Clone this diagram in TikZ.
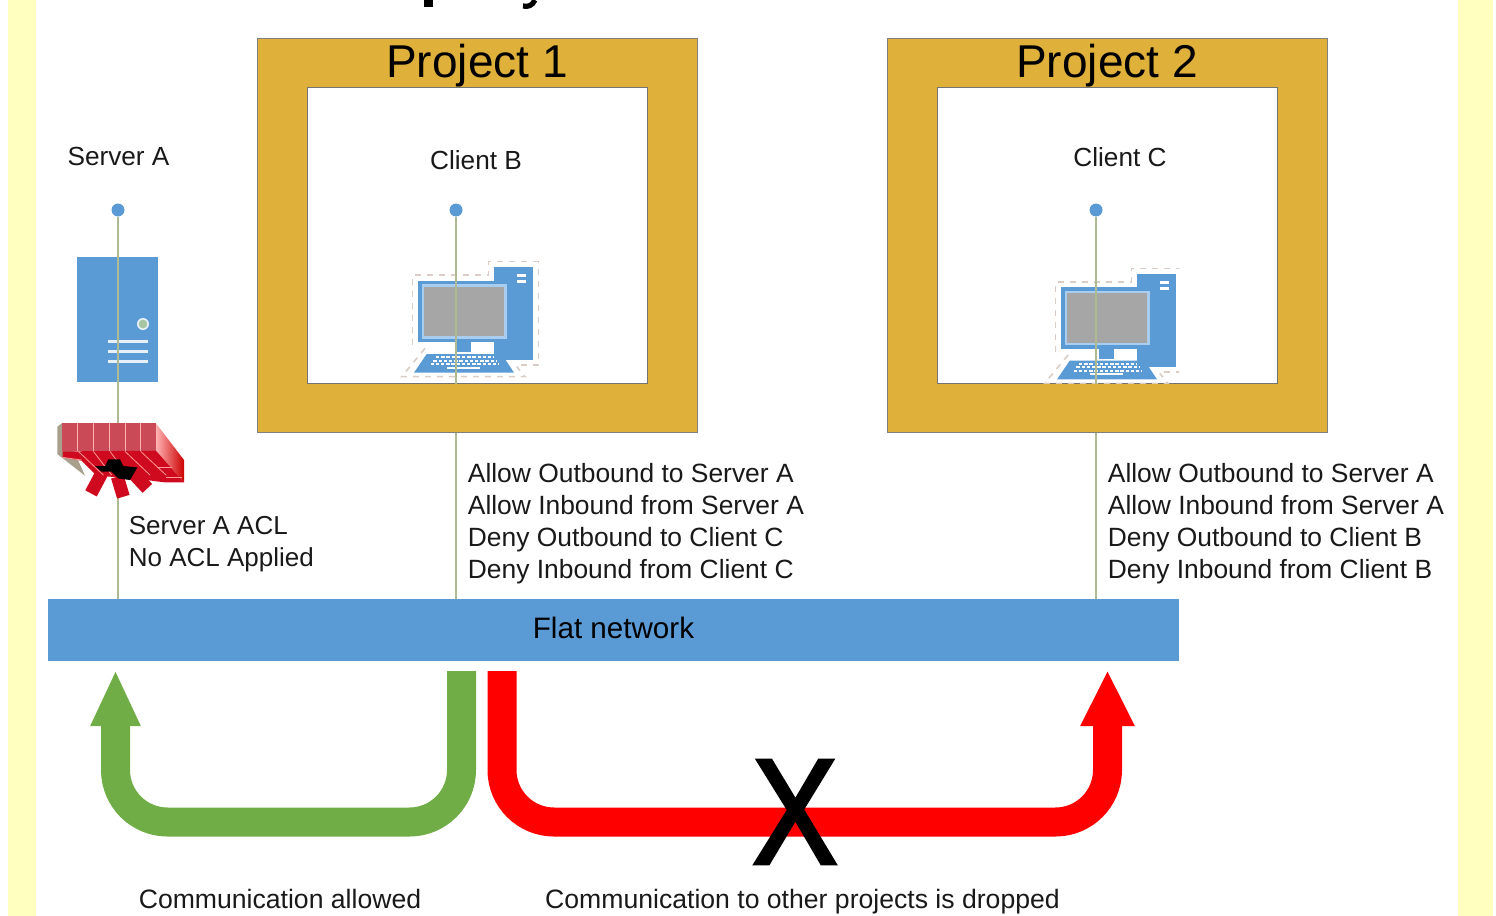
\documentclass[tikz,border=0pt]{standalone}
\usepackage{fontspec}
\setmainfont{Liberation Sans}
\newfontfamily\crossfont[FakeBold=2.5]{Liberation Sans}
\usetikzlibrary{positioning,arrows.meta}

\definecolor{paleyellow}{HTML}{FFFFC0}
\definecolor{framegold}{HTML}{DFB13A}
\definecolor{netblue}{HTML}{5B9BD5}
\definecolor{paleblue}{HTML}{A9CDEE}
\definecolor{linkgreen}{HTML}{AEBB92}
\definecolor{allowgreen}{HTML}{70AD47}
\definecolor{dashtan}{HTML}{D9CDC6}
\definecolor{wallred}{HTML}{CB4A58}
\definecolor{floorred}{HTML}{D00A1E}
\definecolor{wallshadow}{HTML}{A8A08C}

\tikzset{
    plain/.style={inner sep=0pt, font=\fontsize{13.2}{16}\selectfont, text=black!90},
    rules/.style={plain, align=left, anchor=west},
    projframe/.style={draw=black!50, fill=framegold, minimum width=220pt, minimum height=197pt, inner sep=0pt},
    projinner/.style={draw=black!55, fill=white, minimum width=170pt, minimum height=148pt, inner sep=0pt},
    projtitle/.style={inner sep=0pt, font=\fontsize{23}{23}\selectfont, text=black},
    hostdot/.style={circle, fill=netblue, minimum size=6.5pt, inner sep=0pt},
    link/.style={linkgreen, line width=0.9pt},
    bigarrow/.style={line width=14.5pt, rounded corners=26pt},
    pcicon/.pic={
        \begin{scope}[x=0.1667pt,y=-0.1667pt]
            \draw[dashtan, line width=0.8pt, dashed] (68,285) -- (68,75) -- (295,75) -- (295,35) -- (445,35) -- (445,345) -- (380,345);
            \draw[dashtan, line width=0.8pt, dashed] (105,295) -- (35,380) -- (405,380) -- (380,350);
            \fill[netblue] (313,52) rectangle (428,330);
            \fill[white] (382,72) rectangle (408,82);
            \fill[white] (382,90) rectangle (408,100);
            \fill[netblue] (83,92) rectangle (363,277);
            \fill[paleblue] (95,103) rectangle (350,266);
            \fill[black!35] (103,110) rectangle (343,259);
            \fill[white] (243,277) rectangle (313,310);
            \fill[netblue] (198,277) rectangle (243,307);
            \fill[netblue] (110,312) -- (335,312) -- (372,368) -- (72,368) -- cycle;
            \foreach \keyrow/\keyfrom/\keyto in {321/138/310, 332/130/318, 343/122/326}
                \draw[white, line width=1.1pt, dash pattern=on 1.7pt off 0.9pt] (\keyfrom,\keyrow) -- (\keyto,\keyrow);
            \fill[white] (170,350) rectangle (270,356);
        \end{scope}
    }
}

\begin{document}
\begin{tikzpicture}[x=0.5pt,y=-0.5pt]
    \useasboundingbox (0,0) rectangle (1496,916);

    % side strips and the cut off heading
    \fill[paleyellow] (8,0) rectangle (36,916);
    \fill[paleyellow] (1458,0) rectangle (1493,916);
    \fill[black] (424,0) rectangle (433,7);
    \draw[black, line width=2.6pt] (535,0) .. controls (532,6) and (528,7) .. (523,6);

    % flat network and project frames
    \node[fill=netblue, minimum width=565.5pt, minimum height=31pt, inner sep=0pt, font=\fontsize{14.8}{16}\selectfont] (net) at (613.5,630) {\raisebox{2.3pt}{Flat network}};
    \node[projframe] (projB) at (477,235.7) {};
    \node[projinner, below=24.5pt of projB.north] (innerB) {};
    \node[projtitle, above=-0.2pt of innerB.north] (titleB) {Project 1};
    \node[projframe] (projC) at (1107,235.7) {};
    \node[projinner, below=24.5pt of projC.north] (innerC) {};
    \node[projtitle, above=-0.2pt of innerC.north] (titleC) {Project 2};

    % server
    \node[fill=netblue, minimum width=40.5pt, minimum height=62.5pt, inner sep=0pt] (server) at (117.5,319.5) {};
    \fill[white!70!netblue!40!white] (143,324) circle (3pt);
    \fill[linkgreen!60!green!60!black!45!white] (143,324) circle (2.2pt);
    \draw[white!85!netblue, line width=1.5pt] (108,341) -- (148,341);
    \draw[white!85!netblue, line width=1.5pt] (108,351) -- (148,351);
    \draw[white!85!netblue, line width=1.5pt] (108,361) -- (148,361);

    % client computers
    \pic at (390,250) {pcicon};
    \begin{scope}
        \clip (1000,250) rectangle (1179,383);
        \pic at (1033,256.7) {pcicon};
    \end{scope}

    % hosts down to the network
    \node[hostdot] (dotA) at (118,210) {};
    \node[hostdot] (dotB) at (456,210) {};
    \node[hostdot] (dotC) at (1096,210) {};
    \draw[link] (dotA) -- (dotA |- net.north);
    \draw[link] (dotB) -- (dotB |- innerB.south);
    \draw[link] (dotB |- projB.south) -- (dotB |- net.north);
    \draw[link] (dotC) -- (dotC |- innerC.south);
    \draw[link] (dotC |- projC.south) -- (dotC |- net.north);

    % firewall
    \begin{scope}[shift={(40,230)},x=0.1667pt,y=-0.1667pt]
        \fill[wallshadow] (52,590) -- (65,580) -- (135,737) -- (52,672) -- cycle;
        \fill[wallred] (65,580) rectangle (348,662);
        \foreach \brickx in {113,160,208,255,302}
            \draw[white!70!red, line width=0.5pt] (\brickx,580) -- (\brickx,662);
        \shade[left color=red!30!white, right color=red!80!black] (348,580) -- (432,690) -- (432,757) -- (348,662) -- cycle;
        \draw[floorred, line width=6.5pt] (185,730) -- (153,790);
        \draw[floorred, line width=6.5pt] (232,740) -- (250,800);
        \draw[floorred, line width=6.5pt] (280,730) -- (322,775);
        \fill[floorred] (68,664) -- (348,662) -- (432,757) -- (375,757) -- (280,745) -- (170,737) -- (125,692) -- (68,682) -- cycle;
        \foreach \brickx/\brickend in {115/190, 160/215, 210/262, 255/330, 302/378}
            \draw[white!60!red, line width=0.4pt] (\brickx,664) -- (\brickend,735);
        \draw[white!60!red, line width=0.4pt] (68,682) -- (125,690);
        \draw[white!60!red, line width=0.4pt] (350,712) -- (395,712);
        \draw[white!60!red, line width=0.4pt] (378,742) -- (425,742);
        \fill[black] (165,708) -- (195,708) -- (205,688) -- (240,688) -- (250,708) -- (292,712) -- (270,750) -- (235,745) -- (215,725) -- (185,725) -- cycle;
    \end{scope}

    % labels
    \node[plain, font=\fontsize{13.1}{16}\selectfont] (labelA) at (118.5,156.5) {Server A};
    \node[plain, font=\fontsize{13.1}{16}\selectfont] (labelB) at (476,160.5) {Client B};
    \node[plain, font=\fontsize{13.1}{16}\selectfont] (labelC) at (1120,157.5) {Client C};
    \node[rules, font=\fontsize{13}{16}\selectfont] (rulesA) at (128.5,544.5) {Server A ACL\\No ACL Applied};
    \node[rules] (rulesB) at (467.5,524) {Allow Outbound to Server A\\Allow Inbound from Server A\\Deny Outbound to Client C\\Deny Inbound from Client C};
    \node[rules] (rulesC) at (1107.5,524) {Allow Outbound to Server A\\Allow Inbound from Server A\\Deny Outbound to Client B\\Deny Inbound from Client B};

    % traffic arrows
    \coordinate (greenstart) at (461.5,671);
    \coordinate (greentip) at (115.5,670);
    \coordinate (redstart) at (502,671);
    \coordinate (redtip) at (1107.5,670);
    \draw[bigarrow, allowgreen, -{Triangle[length=28pt,width=23pt]}] (greenstart) -- (461.5,822) -- (115.5,822) -- (greentip);
    \draw[bigarrow, red, -{Triangle[length=28pt,width=25pt]}] (redstart) -- (502,822) -- (1107.5,822) -- (redtip);
    \node[inner sep=0pt, text=black, font=\crossfont\fontsize{75}{75}\selectfont, transform shape, xscale=0.85] (cross) at (795,812) {X};
    \node[plain, anchor=base, font=\fontsize{13.3}{16}\selectfont] (allowed) at (280,908) {Communication allowed};
    \node[plain, anchor=base, font=\fontsize{13.3}{16}\selectfont] (dropped) at (802.5,908) {Communication to other projects is dropped};
\end{tikzpicture}
\end{document}
